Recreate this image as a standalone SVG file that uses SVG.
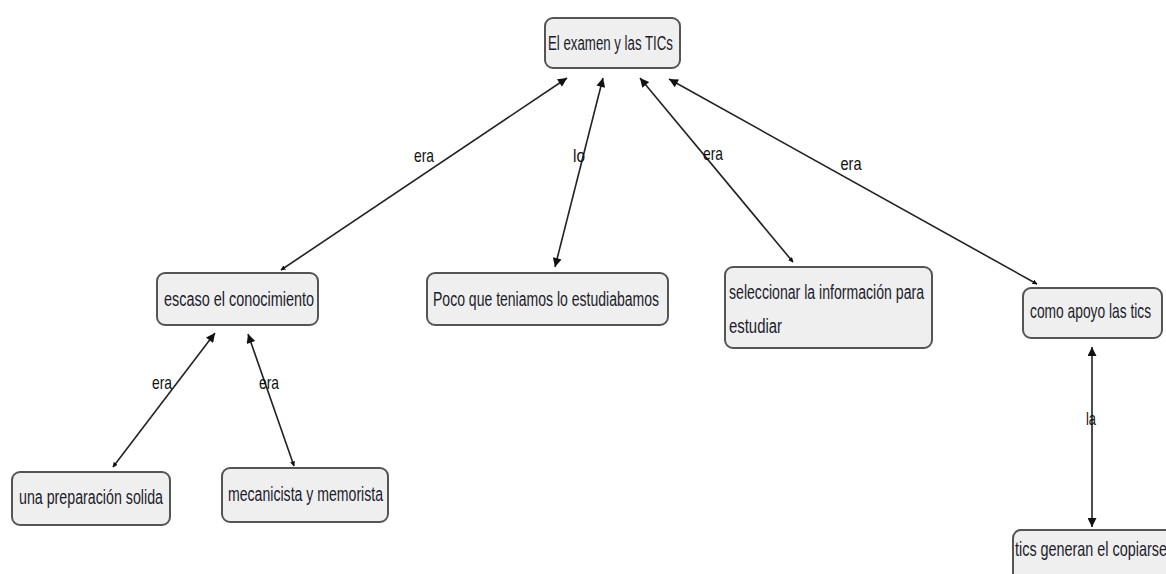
<svg xmlns="http://www.w3.org/2000/svg" width="1166" height="574" viewBox="0 0 1166 574">
<style>
.box{fill:#efefef;stroke:#555555;stroke-width:2}
.t{font-family:"Liberation Sans",Arial,sans-serif;font-size:20px;fill:#1c1c2c}
.lbl{font-family:"Liberation Sans",Arial,sans-serif;font-size:19px;fill:#111}
.edge{stroke:#222;stroke-width:1.6;fill:none}
</style>
<defs>
<marker id="big" viewBox="0 0 10 10" refX="10" refY="5" markerWidth="11" markerHeight="9" markerUnits="userSpaceOnUse" orient="auto-start-reverse"><path d="M0,0 L10,5 L0,10 z" fill="#111"/></marker>
<marker id="small" viewBox="0 0 10 10" refX="9" refY="5" markerWidth="5" markerHeight="5" markerUnits="userSpaceOnUse" orient="auto-start-reverse"><path d="M0,0 L10,5 L0,10 z" fill="#111"/></marker>
</defs>
<rect width="1166" height="574" fill="#ffffff"/>
<g id="connectors">
<line class="edge" x1="281" y1="270" x2="567" y2="78" marker-start="url(#small)" marker-end="url(#big)"/>
<line class="edge" x1="555" y1="267" x2="603" y2="78" marker-start="url(#big)" marker-end="url(#big)"/>
<line class="edge" x1="793" y1="262" x2="640" y2="78" marker-start="url(#small)" marker-end="url(#big)"/>
<line class="edge" x1="1037" y1="284" x2="669" y2="79" marker-start="url(#small)" marker-end="url(#big)"/>
<line class="edge" x1="113" y1="467" x2="215" y2="333" marker-start="url(#small)" marker-end="url(#big)"/>
<line class="edge" x1="294" y1="466" x2="248" y2="334" marker-start="url(#small)" marker-end="url(#big)"/>
<line class="edge" x1="1092" y1="527" x2="1092" y2="347" marker-start="url(#big)" marker-end="url(#big)"/>
<text class="lbl" x="424" y="162" text-anchor="middle" textLength="20" lengthAdjust="spacingAndGlyphs">era</text>
<text class="lbl" x="579" y="162" text-anchor="middle" textLength="12" lengthAdjust="spacingAndGlyphs">lo</text>
<text class="lbl" x="713" y="160" text-anchor="middle" textLength="20" lengthAdjust="spacingAndGlyphs">era</text>
<text class="lbl" x="851" y="170" text-anchor="middle" textLength="21" lengthAdjust="spacingAndGlyphs">era</text>
<text class="lbl" x="162" y="389" text-anchor="middle" textLength="20" lengthAdjust="spacingAndGlyphs">era</text>
<text class="lbl" x="269" y="389" text-anchor="middle" textLength="20" lengthAdjust="spacingAndGlyphs">era</text>
<text class="lbl" x="1091" y="425" text-anchor="middle" textLength="10" lengthAdjust="spacingAndGlyphs">la</text>
</g>
<g id="n1"><rect class="box" x="545" y="18" width="135" height="50" rx="8"/><text class="t" x="548" y="50" textLength="125" lengthAdjust="spacingAndGlyphs">El examen y las TICs</text></g>
<g id="n2"><rect class="box" x="157" y="273" width="161" height="52" rx="8"/><text class="t" x="164" y="306" textLength="150" lengthAdjust="spacingAndGlyphs">escaso el conocimiento</text></g>
<g id="n3"><rect class="box" x="427" y="273" width="241" height="52" rx="8"/><text class="t" x="433" y="306" textLength="226" lengthAdjust="spacingAndGlyphs">Poco que teniamos lo estudiabamos</text></g>
<g id="n4"><rect class="box" x="725" y="267" width="207" height="81" rx="8"/><text class="t" x="729" y="299" textLength="195" lengthAdjust="spacingAndGlyphs">seleccionar la información para</text><text class="t" x="729" y="333" textLength="53" lengthAdjust="spacingAndGlyphs">estudiar</text></g>
<g id="n5"><rect class="box" x="1023" y="288" width="139" height="50" rx="8"/><text class="t" transform="translate(1030 318) scale(0.69 1)">como apoyo las tics</text></g>
<g id="n6"><rect class="box" x="12" y="472" width="158" height="53" rx="8"/><text class="t" x="19" y="504" textLength="144" lengthAdjust="spacingAndGlyphs">una preparación solida</text></g>
<g id="n7"><rect class="box" x="222" y="468" width="166" height="54" rx="8"/><text class="t" x="228" y="501" textLength="155" lengthAdjust="spacingAndGlyphs">mecanicista y memorista</text></g>
<g id="n8"><rect class="box" x="1013" y="530" width="170" height="60" rx="8"/><text class="t" transform="translate(1015 556) scale(0.72 1)">tics generan el copiarse</text></g>
</svg>
